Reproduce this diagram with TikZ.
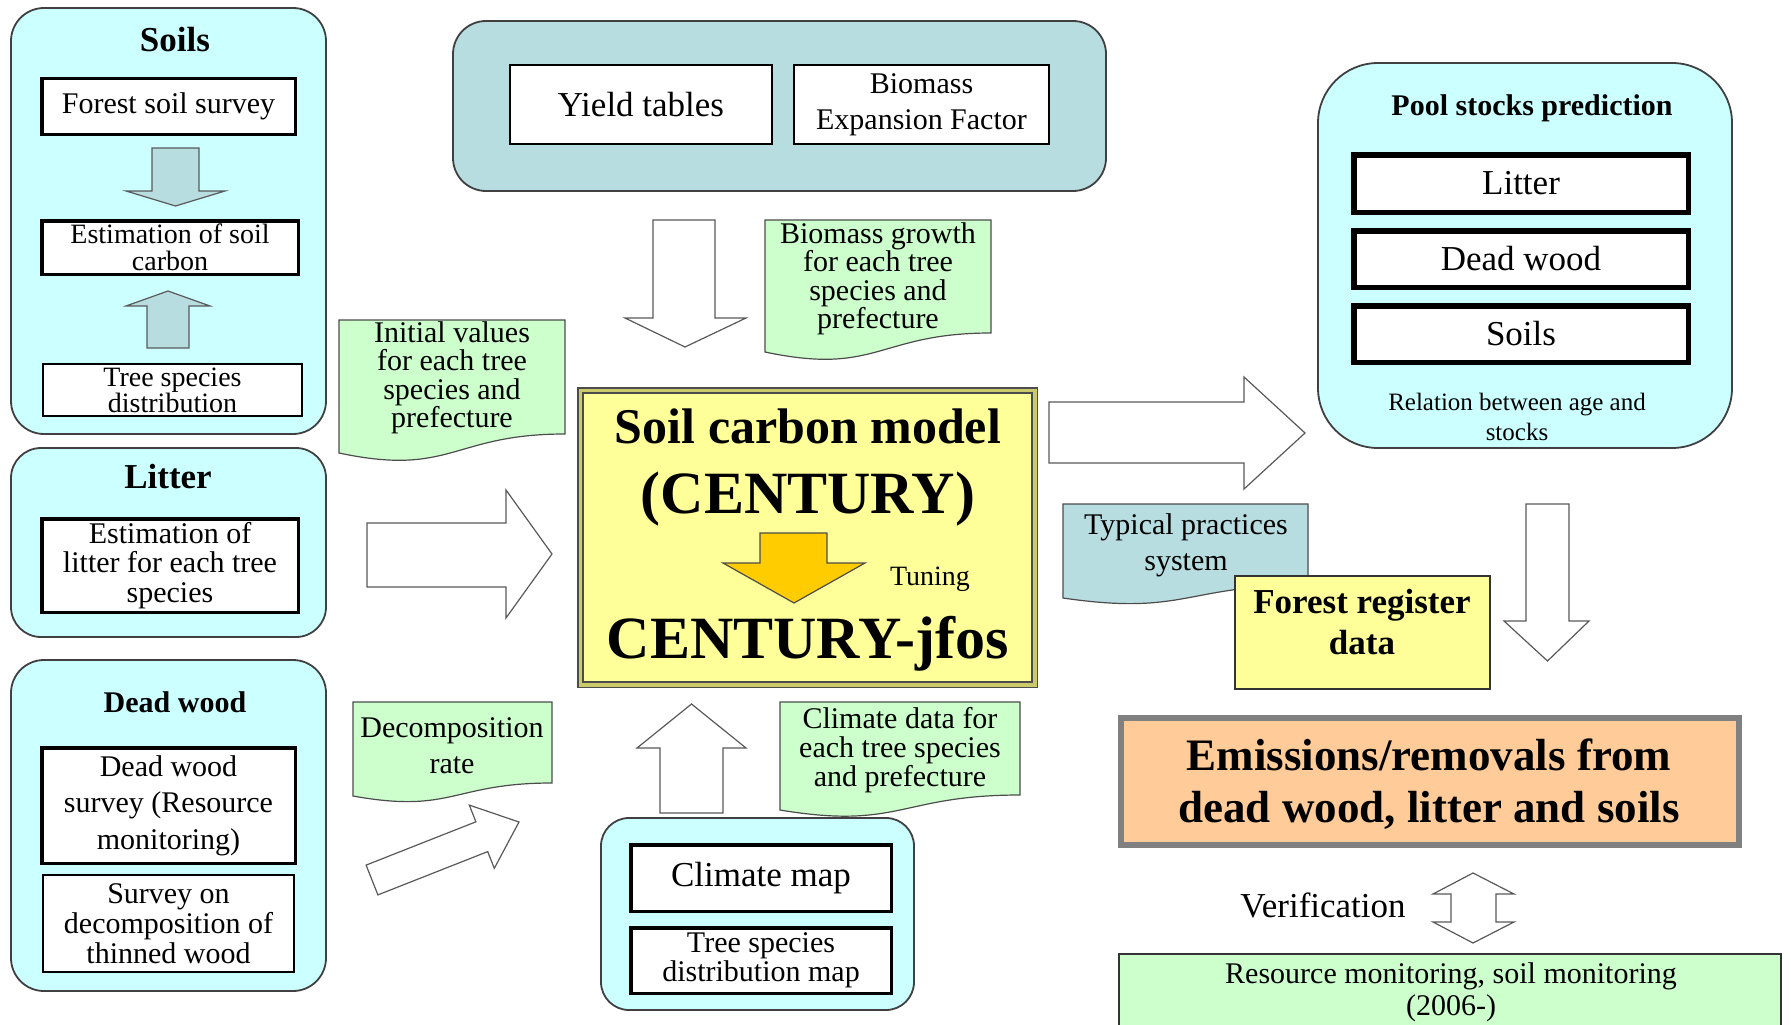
\documentclass[tikz,border=0pt]{standalone}
\usepackage{fontspec}
\setmainfont{Liberation Serif}
\newcommand{\myfs}[2]{\fontsize{#1}{#2}\selectfont}
\definecolor{cyanbox}{HTML}{CCFFFF}
\definecolor{tealbox}{HTML}{B7DDE0}
\definecolor{notegreen}{HTML}{CCFFCC}
\definecolor{yel}{HTML}{FFFF99}
\definecolor{orarrow}{HTML}{FFCC00}
\definecolor{peach}{HTML}{FFCC99}
\definecolor{oliveband}{HTML}{CACA6A}
\definecolor{bord}{HTML}{404040}
\begin{document}
\begin{tikzpicture}[x=1pt,y=-1pt,
  every node/.style={inner sep=0pt, outer sep=0pt, align=center},
  rbox/.style={draw=bord, line width=1.8, fill=cyanbox, rounded corners=33},
  wbox/.style={draw=black, fill=white},
  note/.style={draw=black!70, line width=1.2, fill=notegreen},
  barrow/.style={draw=black!65, line width=1.2, fill=white, line join=miter},
  sarrow/.style={draw=black!65, line width=1.2, fill=tealbox}
]
\useasboundingbox (0,0) rectangle (1791,1025);
\clip (0,0) rectangle (1791,1025);

% ---------------- Soils group
\node[rbox, minimum width=315, minimum height=426] (soilsbox) at (168.5,221) {};
\node[font={\myfs{35}{40}\bfseries}] (soilsT) at (175,40) {Soils};
\node[wbox, line width=3.5, minimum width=253.5, minimum height=55.5, font=\myfs{30}{30}] (fss) at (168.5,106.5) {Forest soil survey};
\node[wbox, line width=3.5, minimum width=256.5, minimum height=53.5, font=\myfs{28}{27}] (esc) at (170,247.5) {Estimation of soil\\carbon};
\node[wbox, line width=2, minimum width=259, minimum height=52, font=\myfs{28}{26}] (tsd) at (172.5,390) {Tree species\\distribution};
\draw[sarrow] (152,148) -- (199,148) -- (199,191) -- (225,191) -- (175.5,206) -- (126,191) -- (152,191) -- cycle;
\draw[sarrow] (147,348) -- (147,306) -- (126,306) -- (168,291) -- (210,306) -- (189,306) -- (189,348) -- cycle;

% ---------------- Litter group
\node[rbox, rounded corners=30, minimum width=315, minimum height=189] (litbox) at (168.5,542.5) {};
\node[font={\myfs{35}{40}\bfseries}] (litT) at (168,477) {Litter};
\node[wbox, line width=3.5, minimum width=256.5, minimum height=93.5, font=\myfs{30}{29.5}] (elit) at (170,565.5) {Estimation of\\litter for each tree\\species};

% ---------------- Dead wood group
\node[rbox, minimum width=315, minimum height=331] (dwbox) at (168.5,825.5) {};
\node[font={\myfs{30}{34}\bfseries}] (dwT) at (175,702) {Dead wood};
\node[wbox, line width=3.5, minimum width=253.5, minimum height=115.5, font=\myfs{30}{36.5}] (dws) at (168.5,805.5) {Dead wood\\survey (Resource\\monitoring)};
\node[wbox, line width=2, minimum width=251, minimum height=97, font=\myfs{30}{30}] (sod) at (168.5,923.5) {Survey on\\decomposition of\\thinned wood};

% ---------------- Yield tables group
\node[rbox, fill=tealbox, minimum width=653, minimum height=170] (yieldbox) at (779.5,106) {};
\node[wbox, line width=2, minimum width=262, minimum height=79, font=\myfs{35}{40}] (yt) at (641,104.5) {Yield tables};
\node[wbox, line width=2, minimum width=255, minimum height=79, font=\myfs{30}{36}] (bef) at (921.5,104.5) {Biomass\\Expansion Factor};
\draw[barrow] (653,220) -- (715,220) -- (715,318) -- (746,318) -- (685,347) -- (625,318) -- (653,318) -- cycle;

% ---------------- notes
\draw[note] (765,220) -- (991,220) -- (991,333) .. controls (878,333) and (878,376) .. (765,352) -- cycle;
\node[font=\myfs{30}{28.5}] (bgrowth) at (878,279) {Biomass growth\\for each tree\\species and\\prefecture};
\draw[note] (339,320) -- (565,320) -- (565,434) .. controls (452,434) and (452,477) .. (339,453) -- cycle;
\node[font=\myfs{30}{28.5}] (initv) at (452,378) {Initial values\\for each tree\\species and\\prefecture};
\draw[note] (353,702) -- (552,702) -- (552,783) .. controls (452.5,783) and (452.5,814) .. (353,796) -- cycle;
\node[font=\myfs{30}{36}] (decr) at (452,746) {Decomposition\\rate};
\draw[note] (780,702) -- (1020,702) -- (1020,795) .. controls (900,795) and (900,830) .. (780,810) -- cycle;
\node[font=\myfs{30}{29}] (clim) at (900,750) {Climate data for\\each tree species\\and prefecture};

% ---------------- central model box
\node[draw=black!70, line width=1.5, fill=oliveband, minimum width=459.5, minimum height=299.5] (cbox) at (807.5,537.5) {};
\node[draw=black!70, line width=1.2, fill=yel, minimum width=449, minimum height=289] (cin) at (807.5,537.5) {};
\node[font={\myfs{50}{55}\bfseries}, anchor=base] (scm) at (808,443) {Soil carbon model};
\node[font={\myfs{60}{66}\bfseries}, anchor=base] (cent) at (808,513) {(CENTURY)};
\draw[draw=black!70, line width=1.2, fill=orarrow] (760,533) -- (827,533) -- (827,563) -- (865,563) -- (794,603) -- (723,563) -- (760,563) -- cycle;
\node[font=\myfs{28}{30}, anchor=base] (tun) at (930,585) {Tuning};
\node[font={\myfs{60}{66}\bfseries}, anchor=base] (cj) at (808,658) {CENTURY-jfos};

% ---------------- arrows into the model
\draw[barrow] (367,523) -- (506,523) -- (506,490) -- (552,554) -- (506,618) -- (506,587) -- (367,587) -- cycle;
\draw[barrow] (366.1,865.1) -- (475.9,821.8) -- (469.3,805.1) -- (519,822) -- (494.3,868.3) -- (487.7,851.6) -- (377.9,894.9) -- cycle;
\draw[barrow] (660,813) -- (660,748) -- (637,748) -- (691.5,704) -- (746,748) -- (723,748) -- (723,813) -- cycle;

% ---------------- climate group
\node[rbox, rounded corners=28, minimum width=313, minimum height=192] (climbox) at (757.5,914) {};
\node[wbox, line width=3.5, minimum width=260.5, minimum height=66.5, font=\myfs{35}{40}] (cmap) at (761,878) {Climate map};
\node[wbox, line width=3.5, minimum width=260.5, minimum height=65.5, font=\myfs{30}{29}] (tsdm) at (761,960.5) {Tree species\\distribution map};

% ---------------- output arrow and pool stocks
\draw[barrow] (1049,402) -- (1244,402) -- (1244,377) -- (1305,433) -- (1244,489) -- (1244,463) -- (1049,463) -- cycle;
\node[rbox, rounded corners=60, minimum width=414, minimum height=385] (poolbox) at (1525,255.5) {};
\node[font={\myfs{30}{34}\bfseries}] (poolT) at (1532,108) {Pool stocks prediction};
\node[wbox, line width=5.5, minimum width=334.5, minimum height=57.5, font=\myfs{35}{40}] (plit) at (1521,183.5) {Litter};
\node[wbox, line width=5.5, minimum width=334.5, minimum height=56.5, font=\myfs{35}{40}] (pdw) at (1521,259) {Dead wood};
\node[wbox, line width=5.5, minimum width=334.5, minimum height=56.5, font=\myfs{35}{40}] (psoil) at (1521,334) {Soils};
\node[font=\myfs{25}{30}] (rel) at (1517,417) {Relation between age and\\stocks};

\draw[barrow] (1526,504) -- (1569,504) -- (1569,621) -- (1589,621) -- (1547.5,661) -- (1504,621) -- (1526,621) -- cycle;

% ---------------- typical practices and forest register
\draw[note, fill=tealbox] (1063,504) -- (1308,504) -- (1308,585) .. controls (1185.5,585) and (1185.5,616) .. (1063,598) -- cycle;
\node[font=\myfs{30}{36}] (typ) at (1186,545) {Typical practices\\system};
\node[draw=black!80, line width=2, fill=yel, minimum width=255, minimum height=113] (frbox) at (1362.5,632.5) {};
\node[font={\myfs{35}{41}\bfseries}] (frT) at (1362,622) {Forest register\\data};

% ---------------- emissions
\node[draw=black!50, line width=6, fill=peach, minimum width=618, minimum height=127] (emis) at (1430,781.5) {};
\node[font={\myfs{45}{52}\bfseries}] (emisT) at (1429,784) {Emissions/removals from\\dead wood, litter and soils};

\node[font=\myfs{35}{40}] (verif) at (1323,905) {Verification};
\draw[barrow] (1473,873) -- (1514,894) -- (1496,894) -- (1496,922) -- (1514,922) -- (1473,943) -- (1433,922) -- (1451,922) -- (1451,894) -- (1433,894) -- cycle;

\node[draw=black!80, line width=1.5, fill=notegreen, minimum width=662, minimum height=82] (resbox) at (1450,995) {};
\node[font=\myfs{30}{32}] (resT) at (1451,992) {Resource monitoring, soil monitoring\\(2006-)};
\end{tikzpicture}
\end{document}
